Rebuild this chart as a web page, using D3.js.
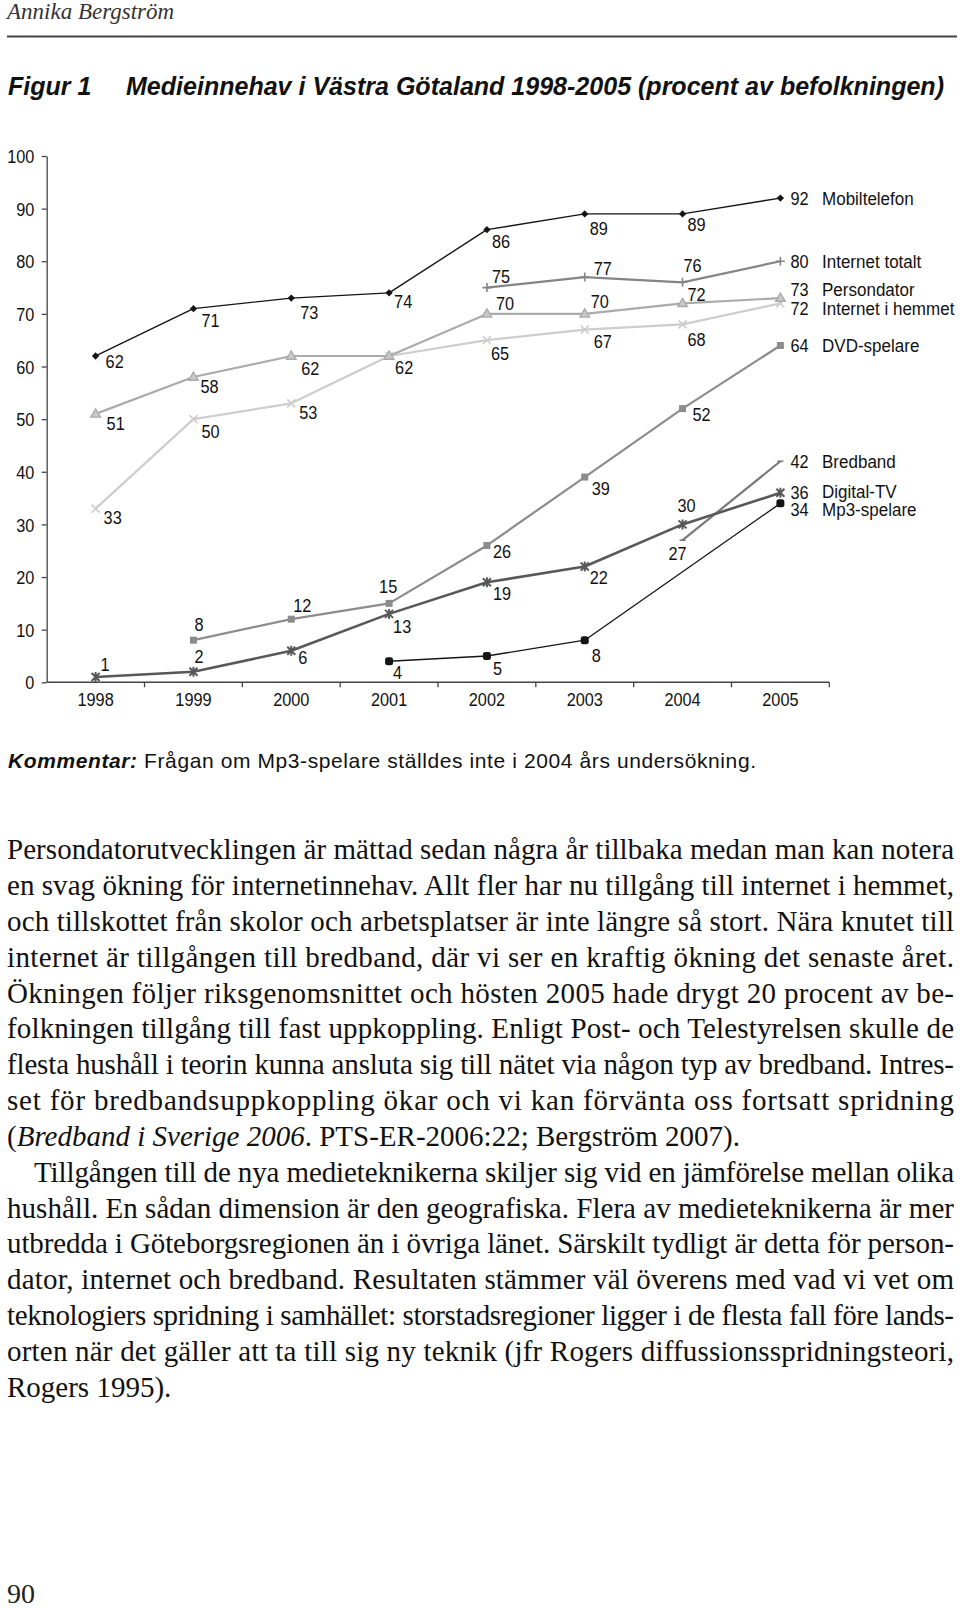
<!DOCTYPE html>
<html><head><meta charset="utf-8">
<script src="https://cdn.jsdelivr.net/npm/d3@7"></script>
<style>body{margin:0;background:#fff}svg{display:block}</style>
</head><body>
<svg id="page" width="960" height="1608"></svg>
<script>
// ---------- DATA ----------
const years = ["1998","1999","2000","2001","2002","2003","2004","2005"];
const yTicks = [0,10,20,30,40,50,60,70,80,90,100];
const seriesNames = ["Mobiltelefon","Internet totalt","Persondator","Internet i hemmet","DVD-spelare","Bredband","Digital-TV","Mp3-spelare"];
const mobiltelefon   = [62,71,73,74,86,89,89,92];
const internetTotalt = [null,null,null,null,75,77,76,80];
const persondator    = [51,58,62,62,70,70,72,73];
const internetHemmet = [33,50,53,62,65,67,68,72];
const dvdSpelare     = [null,8,12,15,26,39,52,64];
const bredband       = [null,null,null,null,null,null,27,42];
const digitalTV      = [1,2,6,13,19,22,30,36];
const mp3Spelare     = [null,null,null,4,5,8,null,34];

const headerText = "Annika Bergström";
const titleLabel = "Figur 1";
const titleText = "Medieinnehav i Västra Götaland 1998-2005 (procent av befolkningen)";
const commentLabel = "Kommentar:";
const commentText = " Frågan om Mp3-spelare ställdes inte i 2004 års undersökning.";
const bodyLines = [
 "Persondatorutvecklingen är mättad sedan några år tillbaka medan man kan notera",
 "en svag ökning för internetinnehav. Allt fler har nu tillgång till internet i hemmet,",
 "och tillskottet från skolor och arbetsplatser är inte längre så stort. Nära knutet till",
 "internet är tillgången till bredband, där vi ser en kraftig ökning det senaste året.",
 "Ökningen följer riksgenomsnittet och hösten 2005 hade drygt 20 procent av be-",
 "folkningen tillgång till fast uppkoppling. Enligt Post- och Telestyrelsen skulle de",
 "flesta hushåll i teorin kunna ansluta sig till nätet via någon typ av bredband. Intres-",
 "set för bredbandsuppkoppling ökar och vi kan förvänta oss fortsatt spridning",
 "(*Bredband i Sverige 2006*. PTS-ER-2006:22; Bergström 2007).",
 "Tillgången till de nya medieteknikerna skiljer sig vid en jämförelse mellan olika",
 "hushåll. En sådan dimension är den geografiska. Flera av medieteknikerna är mer",
 "utbredda i Göteborgsregionen än i övriga länet. Särskilt tydligt är detta för person-",
 "dator, internet och bredband. Resultaten stämmer väl överens med vad vi vet om",
 "teknologiers spridning i samhället: storstadsregioner ligger i de flesta fall före lands-",
 "orten när det gäller att ta till sig ny teknik (jfr Rogers diffussionsspridningsteori,",
 "Rogers 1995)."
];
const pageNumber = "90";

// ---------- LAYOUT / STYLE ----------
const seriesValues = [mobiltelefon, internetTotalt, persondator, internetHemmet, dvdSpelare, bredband, digitalTV, mp3Spelare];
const seriesStyle = {
  "Mobiltelefon":      {color:"#151515", width:1.4, marker:"diamond"},
  "Internet totalt":   {color:"#858585", width:2.2, marker:"plus"},
  "Persondator":       {color:"#ababab", width:2.2, marker:"triangle"},
  "Internet i hemmet": {color:"#cdcdcd", width:2.2, marker:"times"},
  "DVD-spelare":       {color:"#8c8c8c", width:2.2, marker:"square"},
  "Bredband":          {color:"#7a7a7a", width:2.2, marker:"dash"},
  "Digital-TV":        {color:"#585858", width:2.6, marker:"asterisk"},
  "Mp3-spelare":       {color:"#151515", width:1.3, marker:"circle"}
};
// label offsets [dx to left edge, dy to vertical centre] for the non-null points
// (null = label coincides with another series' identical label and is shared)
const labelOffsets = {
  "Mobiltelefon":      [[10,5],[8,12],[9,14],[5,8],[5,12],[5,14],[5,10],[10,0]],
  "Internet totalt":   [[5,-11],[9,-9],[1,-17],[10,0]],
  "Persondator":       [[11,9],[7,9],[10,12],[6,11],[9,-11],[6,-13],[5,-9],[10,-9]],
  "Internet i hemmet": [[8,9],[8,12],[8,9],null,[4,13],[9,12],[5,15],[10,5]],
  "DVD-spelare":       [[1,-16],[2,-14],[-10,-17],[6,6],[7,11],[10,6],[10,0]],
  "Bredband":          [[-14,13],[10,0]],
  "Digital-TV":        [[5,-13],[1,-15],[7,7],[4,12],[6,11],[5,11],[-5,-19],[10,-1]],
  "Mp3-spelare":       [[4,11],[6,12],[7,15],[10,6]]
};
const drawOrder = ["Internet i hemmet","Persondator","DVD-spelare","Internet totalt","Bredband","Digital-TV","Mp3-spelare","Mobiltelefon"];

const SANS = "'Liberation Sans', Arial, Helvetica, sans-serif";
const SERIF = "'Liberation Serif', 'Times New Roman', serif";
const chartFont = 18.5, numSX = 0.88, legSX = 0.92;

const svg = d3.select("#page");

// header
svg.append("text").attr("x",7).attr("y",19).attr("font-family",SERIF).attr("font-style","italic")
  .attr("font-size",23).attr("fill","#333").text(headerText);
svg.append("line").attr("x1",7).attr("x2",957).attr("y1",36.5).attr("y2",36.5)
  .attr("stroke","#444").attr("stroke-width",2);

// title
const tg = svg.append("g").attr("font-family",SANS).attr("font-weight","bold").attr("font-style","italic")
  .attr("font-size",25).attr("fill","#111");
tg.append("text").attr("x",8).attr("y",95).text(titleLabel);
tg.append("text").attr("x",126).attr("y",95).attr("textLength",818).attr("lengthAdjust","spacingAndGlyphs").text(titleText);

// ---------- CHART ----------
const x = d3.scaleBand().domain(years).range([46.7, 829.3]).paddingInner(0).paddingOuter(0);
const cx = d => x(d) + x.bandwidth()/2;
const y = d3.scaleLinear().domain([0,100]).range([682.3, 156]);
const chart = svg.append("g").attr("font-family",SANS).attr("fill","#111");

// y axis
const yAxis = chart.append("g").attr("transform",`translate(${x.range()[0]},0)`)
  .call(d3.axisLeft(y).tickValues(yTicks).tickSize(5).tickSizeOuter(0));
yAxis.select(".domain").attr("stroke","#444").attr("stroke-width",1.3);
yAxis.selectAll(".tick line").attr("stroke","#444").attr("stroke-width",1.3);
yAxis.selectAll(".tick text").attr("font-size",chartFont).attr("font-family",SANS).attr("fill","#111")
  .attr("transform",`scale(${numSX},1)`).attr("x",-12.4/numSX).attr("dy","0.36em");

// x axis
const xAxis = chart.append("g").attr("transform",`translate(0,${y(0)})`)
  .call(d3.axisBottom(x).tickSize(0).tickPadding(11));
xAxis.select(".domain").remove();
xAxis.selectAll(".tick text").attr("font-size",chartFont).attr("font-family",SANS).attr("fill","#111")
  .attr("transform",`scale(${numSX},1)`);
xAxis.append("line").attr("x1",x.range()[0]).attr("x2",x.range()[1]).attr("stroke","#444").attr("stroke-width",1.5);
const bounds = years.map(d => x(d)).concat([x.range()[1]]);
xAxis.selectAll(".bt").data(bounds.slice(1)).enter().append("line").attr("class","bt")
  .attr("x1",d=>d).attr("x2",d=>d).attr("y1",0).attr("y2",5).attr("stroke","#444").attr("stroke-width",1.3);

function markerPath(type){
  switch(type){
    case "plus": return "M-4.5,0H4.5M0,-4.5V4.5";
    case "times": return "M-4,-4L4,4M-4,4L4,-4";
    case "asterisk": return "M-4,-4L4,4M-4,4L4,-4M0,-5V5";
    case "dash": return "M-3,0H3";
    case "triangle": return "M0,-5L4.8,3.2L-4.8,3.2Z";
    default: return null;
  }
}

const lineGen = d3.line().x(d => cx(d.year)).y(d => y(d.v));
const labelsG = chart.append("g");
drawOrder.forEach(name => {
  const idx = seriesNames.indexOf(name);
  const st = seriesStyle[name];
  const pts = years.map((yr,i) => ({year:yr, v:seriesValues[idx][i]})).filter(d => d.v !== null);
  const g = chart.append("g");
  g.append("path").datum(pts).attr("d",lineGen).attr("fill","none")
    .attr("stroke",st.color).attr("stroke-width",st.width).attr("stroke-linejoin","round");
  pts.forEach(p => {
    const px = cx(p.year), py = y(p.v);
    const m = g.append("g").attr("transform",`translate(${px},${py})`);
    if (st.marker === "diamond") {
      m.append("rect").attr("x",-2.6).attr("y",-2.6).attr("width",5.2).attr("height",5.2)
        .attr("transform","rotate(45)").attr("fill",st.color);
    } else if (st.marker === "square") {
      m.append("rect").attr("x",-3.5).attr("y",-3.5).attr("width",7).attr("height",7).attr("fill",st.color);
    } else if (st.marker === "circle") {
      m.append("rect").attr("x",-4).attr("y",-4).attr("width",8).attr("height",8).attr("rx",2.5).attr("fill",st.color);
    } else if (st.marker === "triangle") {
      m.append("path").attr("d",markerPath("triangle")).attr("fill","#c9c9c9").attr("stroke",st.color).attr("stroke-width",1.4);
    } else {
      m.append("path").attr("d",markerPath(st.marker)).attr("fill","none")
        .attr("stroke",st.color).attr("stroke-width", st.marker==="asterisk"?2:1.6);
    }
  });
  // value labels
  const offs = labelOffsets[name];
  let lastY = 0;
  pts.forEach((p,i) => {
    const o = offs[i];
    if (!o) return;
    const lx = cx(p.year) + o[0], ly = y(p.v) + o[1];
    lastY = ly;
    labelsG.append("text").attr("transform",`translate(${lx},${ly}) scale(${numSX},1)`)
      .attr("dy","0.36em").attr("font-size",chartFont).attr("fill","#111").text(p.v);
  });
  // legend label at line end
  labelsG.append("text").attr("transform",`translate(822,${lastY}) scale(${legSX},1)`)
    .attr("dy","0.36em").attr("font-size",chartFont).attr("fill","#111").text(name);
});

// comment
const cm = svg.append("text").attr("x",8).attr("y",768).attr("font-family",SANS).attr("font-size",21)
  .attr("fill","#111").attr("textLength",748).attr("lengthAdjust","spacing");
cm.append("tspan").attr("font-weight","bold").attr("font-style","italic").text(commentLabel);
cm.append("tspan").text(commentText);

// body text
const body = svg.append("g").attr("font-family",SERIF).attr("font-size",29).attr("fill","#111");
const lineStep = 35.83, firstBase = 859.3, left = 7, right = 954, indent = 27;
const paragraphEnds = [8, 15], indented = [9];
bodyLines.forEach((ln,i) => {
  const isInd = indented.includes(i);
  const x0 = left + (isInd ? indent : 0);
  const t = body.append("text").attr("x",x0).attr("y",firstBase + i*lineStep);
  ln.split("*").forEach((part,j) => {
    const ts = t.append("tspan").text(part);
    if (j % 2 === 1) ts.attr("font-style","italic");
  });
  if (!paragraphEnds.includes(i)) t.attr("textLength", right - x0).attr("lengthAdjust","spacing");
});

svg.append("text").attr("x",7).attr("y",1603).attr("font-family",SERIF).attr("font-size",28)
  .attr("fill","#222").text(pageNumber);
</script>
</body></html>
